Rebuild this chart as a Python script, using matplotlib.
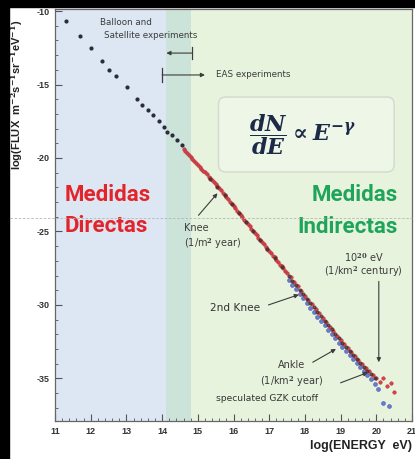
import matplotlib
matplotlib.use("Agg")
import matplotlib.pyplot as plt
from matplotlib.patches import Rectangle, FancyBboxPatch
from matplotlib.lines import Line2D
from matplotlib.ticker import MultipleLocator

plt.rcParams['axes.unicode_minus'] = False
plt.rcParams['mathtext.fontset'] = 'custom'
plt.rcParams['mathtext.it'] = 'DejaVu Serif:italic:bold'
plt.rcParams['mathtext.rm'] = 'DejaVu Serif:bold'
plt.rcParams['mathtext.bf'] = 'DejaVu Serif:bold'

# ---------------- spectrum data (log10 E [eV], log10 flux) ----------------
direct_E = [11.31, 11.70, 12.00, 12.32, 12.52, 12.71, 13.02, 13.30, 13.44,
            13.60, 13.75, 13.90, 14.04, 14.15, 14.28, 14.42, 14.56]
direct_F = [-10.68, -11.70, -12.50, -13.40, -14.00, -14.40, -15.20, -16.00, -16.40,
            -16.75, -17.10, -17.50, -17.90, -18.20, -18.45, -18.80, -19.10]

red_E = [14.6, 14.7, 14.8, 14.9, 15.0, 15.1, 15.2, 15.3, 15.4, 15.5,
         15.6, 15.7, 15.8, 15.9, 16.0, 16.1, 16.2, 16.3, 16.4, 16.5,
         16.6, 16.7, 16.8, 16.9, 17.0, 17.1, 17.2, 17.3, 17.4, 17.5,
         17.6, 17.7, 17.8, 17.9, 18.0, 18.1, 18.2, 18.3, 18.4, 18.5,
         18.6, 18.7, 18.8, 18.9, 19.0, 19.1, 19.2, 19.3, 19.4, 19.5,
         19.6, 19.7, 19.8, 19.9, 20.0, 20.1, 20.2, 20.3, 20.4, 20.5]
red_F = [-19.38, -19.67, -19.92, -20.21, -20.45, -20.74, -20.98, -21.27, -21.50, -21.80,
         -22.03, -22.37, -22.64, -22.98, -23.25, -23.59, -23.86, -24.20, -24.47, -24.81,
         -25.08, -25.42, -25.69, -26.03, -26.30, -26.64, -26.91, -27.25, -27.52, -27.86,
         -28.13, -28.47, -28.74, -29.08, -29.36, -29.69, -29.96, -30.29, -30.56, -30.89,
         -31.16, -31.49, -31.76, -32.09, -32.36, -32.67, -32.92, -33.22, -33.47, -33.77,
         -34.02, -34.30, -34.52, -34.80, -34.95, -35.22, -35.00, -35.55, -35.30, -35.95]

red2_E = [14.65, 14.75, 14.85, 14.95, 15.05, 15.15, 15.25, 15.35, 15.45, 15.55,
          15.65, 15.75, 15.85, 15.95, 16.05, 16.15, 16.25, 16.35, 16.45, 16.55,
          16.65, 16.75, 16.85, 16.95, 17.05, 17.15, 17.25, 17.35, 17.45]
red2_F = [-19.52, -19.80, -20.06, -20.33, -20.60, -20.86, -21.12, -21.39, -21.66, -21.92,
          -22.21, -22.50, -22.82, -23.11, -23.43, -23.72, -24.04, -24.33, -24.65, -24.94,
          -25.26, -25.55, -25.87, -26.16, -26.48, -26.77, -27.09, -27.38, -27.70]

dark_E = [15.35, 15.55, 15.75, 15.95, 16.15, 16.35, 16.55, 16.75, 16.95, 17.15,
          17.35, 17.55, 17.65, 17.75, 17.85, 17.95, 18.05, 18.15, 18.25, 18.35,
          18.45, 18.55, 18.65, 18.75, 18.85, 18.95, 19.05, 19.15, 19.25, 19.35,
          19.45, 19.55, 19.65, 19.75, 19.85, 19.95]
dark_F = [-21.42, -21.97, -22.55, -23.15, -23.76, -24.38, -24.99, -25.60, -26.21, -26.82,
          -27.43, -28.05, -28.35, -28.66, -28.96, -29.27, -29.57, -29.87, -30.17, -30.47,
          -30.77, -31.07, -31.37, -31.67, -31.97, -32.27, -32.56, -32.84, -33.12, -33.39,
          -33.67, -33.94, -34.22, -34.48, -34.70, -34.98]

blue_E = [17.55, 17.65, 17.75, 17.85, 17.95, 18.05, 18.15, 18.25, 18.35, 18.45,
          18.55, 18.65, 18.75, 18.85, 18.95, 19.05, 19.15, 19.25, 19.35, 19.45,
          19.55, 19.65, 19.75, 19.85, 19.95, 20.05, 20.20, 20.35]
blue_F = [-28.30, -28.62, -28.93, -29.25, -29.56, -29.86, -30.18, -30.47, -30.79, -31.08,
          -31.39, -31.68, -31.99, -32.28, -32.58, -32.88, -33.15, -33.44, -33.70, -33.98,
          -34.25, -34.52, -34.78, -35.05, -35.40, -35.75, -36.65, -36.90]

# energy ranges of the two experiment types
direct_range = (11, 14.1)
overlap_range = (14.1, 14.8)
eas_range = (14.8, 21)

x_ticks = [11, 12, 13, 14, 15, 16, 17, 18, 19, 20, 21]
y_ticks = [-35, -30, -25, -20, -15, -10]

# ---------------- figure ----------------
W, H = 415, 459
fig = plt.figure(figsize=(W / 100, H / 100), dpi=100)
fig.patch.set_facecolor('white')
ax = fig.add_axes([55 / W, 1 - 421 / H, (412 - 55) / W, (421 - 9) / H])

ax.axvspan(*direct_range, color='#dce7f3', lw=0, zorder=0)
ax.axvspan(*overlap_range, color='#cbe3d8', lw=0, zorder=0)
ax.axvspan(*eas_range, color='#e8f3dd', lw=0, zorder=0)

ax.set_xlim(11, 21)
ax.set_ylim(-37.9, -9.86)

# equation box
box = FancyBboxPatch((15.58, -20.95), 4.92, 5.1,
                     boxstyle='round,pad=0,rounding_size=0.2',
                     mutation_aspect=2.43, fc='#eef6e8', ec='#d2dacd', lw=1.0, zorder=1)
ax.add_patch(box)
ax.text(17.95, -18.4, r'$\dfrac{dN}{dE} \propto E^{-\gamma}$', fontsize=16,
        color='#1c2a47', ha='center', va='center', zorder=2)

# spectrum points
ax.plot(direct_E, direct_F, ls='none', marker='o', ms=2.0, color='#2a2a3a', zorder=3)
ax.plot(blue_E, blue_F, ls='none', marker='o', ms=2.8, mfc='#5a6fd0', mec='#3c4ea8',
        mew=0.4, alpha=0.9, zorder=3)
ax.plot(red_E, red_F, ls='none', marker='o', ms=2.5, mfc='#d9434c', mec='#b8323a',
        mew=0.4, zorder=3)
ax.plot(red2_E, red2_F, ls='none', marker='o', ms=2.5, mfc='#d04048', mec='#b8323a',
        mew=0.4, zorder=3)
ax.plot(dark_E, dark_F, ls='none', marker='o', ms=2.0, color='#4a2e2e', alpha=0.75,
        zorder=4)

# labels of the regions
big = dict(family='Roboto', fontweight='bold', fontsize=16)
ax.text(11.28, -22.5, 'Medidas', color='#e3242b', ha='left', va='center', **big)
ax.text(11.28, -24.6, 'Directas', color='#e3242b', ha='left', va='center', **big)
ax.text(20.6, -22.5, 'Medidas', color='#1fa55a', ha='right', va='center', **big)
ax.text(20.6, -24.7, 'Indirectas', color='#1fa55a', ha='right', va='center', **big)

# experiment ranges at the top
txt = dict(family='DejaVu Sans', color='#3c3c3c', fontsize=6.3)
ax.text(12.26, -10.75, 'Balloon and', ha='left', va='center', **txt)
ax.text(12.38, -11.65, 'Satellite experiments', ha='left', va='center', **txt)
ax.text(15.5, -14.35, 'EAS experiments', ha='left', va='center', **txt)
arr = dict(arrowstyle='-|>', color='#3c3c3c', lw=0.8, mutation_scale=6,
           shrinkA=0, shrinkB=0)
ax.annotate('', xy=(14.12, -12.86), xytext=(14.85, -12.86), arrowprops=arr)
ax.plot([14.85, 14.85], [-12.45, -13.27], color='#3c3c3c', lw=0.9)
ax.annotate('', xy=(15.2, -14.35), xytext=(14.0, -14.35), arrowprops=arr)
ax.plot([14.0, 14.0], [-13.9, -14.8], color='#3c3c3c', lw=0.9)

# features of the spectrum
note = dict(family='DejaVu Sans', color='#3c3c3c', fontsize=7)
ax.text(14.62, -24.75, 'Knee', ha='left', va='center', **note)
ax.text(14.62, -25.85, '(1/m$^2$ year)', ha='left', va='center', **note)
ax.annotate('', xy=(15.55, -22.4), xytext=(15.02, -23.9), arrowprops=arr)

ax.text(16.03, -30.2, '2nd Knee', ha='center', va='center',
        family='DejaVu Sans', color='#333333', fontsize=7.6)
ax.annotate('', xy=(17.83, -29.3), xytext=(16.98, -30.0), arrowprops=arr)

ax.text(19.65, -26.8, '10$^{20}$ eV', ha='center', va='center', **note)
ax.text(19.65, -27.75, '(1/km$^2$ century)', ha='center', va='center', **note)
ax.annotate('', xy=(20.07, -33.9), xytext=(20.07, -28.4), arrowprops=arr)

ax.text(17.63, -34.1, 'Ankle', ha='center', va='center', **note)
ax.text(17.63, -35.2, '(1/km$^2$ year)', ha='center', va='center', **note)
ax.annotate('', xy=(18.87, -33.0), xytext=(18.22, -33.9), arrowprops=arr)

ax.text(16.93, -36.4, 'speculated GZK cutoff', ha='center', va='center',
        family='DejaVu Sans', color='#333333', fontsize=6.6)
ax.annotate('', xy=(19.76, -34.6), xytext=(19.0, -35.3), arrowprops=arr)

# axes styling
ax.set_xticks(x_ticks)
ax.set_yticks(y_ticks)
ax.xaxis.set_minor_locator(MultipleLocator(0.2))
ax.yaxis.set_minor_locator(MultipleLocator(1))
ax.tick_params(which='both', direction='in', color='#555555', top=False, right=False)
ax.tick_params(which='major', length=5, width=0.8, labelsize=6.5, pad=4,
               labelcolor='#333333')
ax.tick_params(which='minor', length=2.5, width=0.6)
for lab in ax.get_xticklabels() + ax.get_yticklabels():
    lab.set_fontweight('bold')
    lab.set_family('Liberation Sans')
for s in ax.spines.values():
    s.set_color('#666666')
    s.set_linewidth(0.9)

fig.text(17 / W, 1 - 95 / H, 'log(FLUX  m$^{-2}$s$^{-1}$sr$^{-1}$eV$^{-1}$)',
         rotation=90, ha='center', va='center', fontsize=8, fontweight='bold',
         family='Liberation Sans', color='#222222')
fig.text(412 / W, 1 - 446 / H, 'log(ENERGY  eV)', ha='right', va='center',
         fontsize=9, fontweight='bold', family='Liberation Sans', color='#222222')

# thin guide line across the page and dark frame edges
fig.add_artist(Line2D([10 / W, 412 / W], [1 - 218 / H, 1 - 218 / H],
                      color='#b5b5b5', lw=0.6, ls=(0, (3, 2)), zorder=5))
fig.add_artist(Rectangle((0, 0), 9 / W, 1, color='black', zorder=6))
fig.add_artist(Rectangle((0, 1 - 7 / H), 1, 7 / H, color='black', zorder=6))

fig.savefig('out.png', dpi=100)
